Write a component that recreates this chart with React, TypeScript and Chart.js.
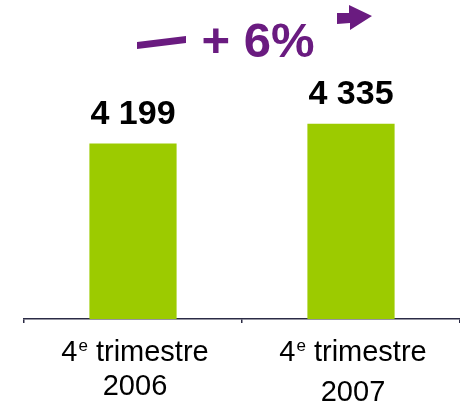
import React, { useEffect, useRef } from "react";
import { Chart, registerables } from "chart.js";

Chart.register(...registerables);

const categories = ["2006", "2007"];
const tickPrefix = "4";
const tickSup = "e";
const tickWord = " trimestre";
const values = [4199, 4335];
const growthLabel = "+ 6%";

const GREEN = "#9CCB00";
const PURPLE = "#6A1B80";
const FONT = "'Liberation Sans', Arial, sans-serif";

const fmt = (v: number) => {
  const s = String(Math.round(v));
  return s.replace(/\B(?=(\d{3})+(?!\d))/g, " ");
};

const overlayPlugin = {
  id: "overlay",
  afterDatasetsDraw(chart: any) {
    const ctx = chart.ctx as CanvasRenderingContext2D;
    const meta = chart.getDatasetMeta(0);
    const xScale = chart.scales.x;
    const area = chart.chartArea;
    ctx.save();
    // value labels
    ctx.fillStyle = "#000";
    ctx.font = `bold 34px ${FONT}`;
    ctx.textAlign = "center";
    ctx.textBaseline = "alphabetic";
    meta.data.forEach((bar: any, i: number) => {
      ctx.fillText(fmt(values[i]), bar.x, bar.y - 20);
    });
    // category labels with superscript
    categories.forEach((cat, i) => {
      const cx = xScale.getPixelForValue(i) + 2;
      const big = `29px ${FONT}`;
      const small = `17px ${FONT}`;
      ctx.font = big;
      const w1 = ctx.measureText(tickPrefix).width;
      const w3 = ctx.measureText(tickWord).width;
      ctx.font = small;
      const w2 = ctx.measureText(tickSup).width + 1;
      const total = w1 + w2 + w3;
      let x = cx - total / 2;
      const y1 = area.bottom + 42;
      ctx.textAlign = "left";
      ctx.font = big;
      ctx.fillText(tickPrefix, x, y1);
      x += w1 + 1;
      ctx.font = small;
      ctx.fillText(tickSup, x, y1 - 10);
      x += w2 - 1;
      ctx.font = big;
      ctx.fillText(tickWord, x, y1);
      ctx.textAlign = "center";
      ctx.fillText(cat, cx, area.bottom + 76 + (i === 1 ? 6 : 0));
    });
    // growth arrow
    ctx.fillStyle = PURPLE;
    ctx.beginPath();
    ctx.moveTo(137, 42);
    ctx.lineTo(186, 36);
    ctx.lineTo(186, 43);
    ctx.lineTo(137, 49);
    ctx.closePath();
    ctx.fill();
    ctx.beginPath();
    ctx.moveTo(337, 13);
    ctx.lineTo(349, 13);
    ctx.lineTo(349, 5);
    ctx.lineTo(372, 16);
    ctx.lineTo(350, 30);
    ctx.lineTo(350, 23);
    ctx.lineTo(337, 24);
    ctx.closePath();
    ctx.fill();
    ctx.font = `bold 49px ${FONT}`;
    ctx.textAlign = "center";
    ctx.fillText(growthLabel, 258, 57);
    ctx.restore();
  },
};

export default function App() {
  const ref = useRef<HTMLCanvasElement>(null);
  useEffect(() => {
    if (!ref.current) return;
    const chart = new Chart(ref.current, {
      type: "bar",
      data: {
        labels: categories,
        datasets: [
          {
            data: values,
            backgroundColor: GREEN,
            borderWidth: 0,
            barPercentage: 0.4,
            categoryPercentage: 1,
          },
        ],
      },
      options: {
        animation: false,
        responsive: true,
        maintainAspectRatio: false,
        layout: { padding: { left: 24, right: 0, top: 0, bottom: 0 } },
        plugins: { legend: { display: false }, tooltip: { enabled: false } },
        scales: {
          y: { display: false, min: 3000, max: 5180 },
          x: {
            afterFit: (scale: any) => {
              scale.height = 85;
            },
            border: { display: true, color: "#2B2B45", width: 1.5 },
            grid: {
              display: true,
              drawOnChartArea: false,
              drawTicks: true,
              tickLength: 4,
              color: "#2B2B45",
              lineWidth: 1.5,
              offset: true,
            },
            ticks: { display: false },
          },
        },
      },
      plugins: [overlayPlugin],
    });
    return () => chart.destroy();
  }, []);
  return (
    <div style={{ position: "absolute", left: 0, top: 0, width: 460, height: 404 }}>
      <canvas ref={ref} />
    </div>
  );
}
